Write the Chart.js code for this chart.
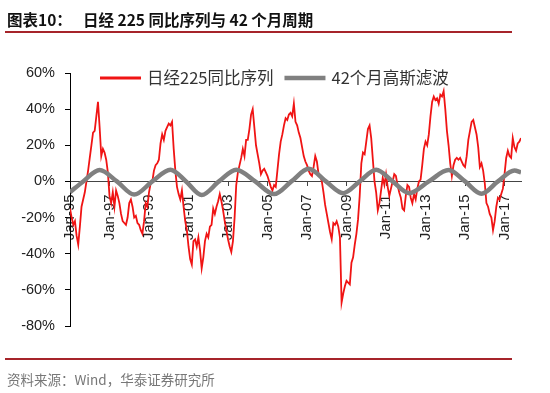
<!DOCTYPE html>
<html>
<head>
<meta charset="utf-8">
<script src="https://cdn.jsdelivr.net/npm/chart.js@4.4.1/dist/chart.umd.min.js"></script>
<style>
  body { margin: 0; background: #fff; }
  #wrap { position: relative; width: 550px; height: 393px; overflow: hidden; }
  #chart { position: absolute; left: 0; top: 0; }
  .title { position: absolute; top: 8px; font: bold 15.5px "Noto Sans CJK SC", sans-serif; color: #111; white-space: nowrap; }
  .rule { position: absolute; left: 5px; width: 507px; height: 2px; background: #a6242a; }
  .source { position: absolute; left: 7px; top: 369px; font: 13.5px "Noto Sans CJK SC", sans-serif; color: #777; white-space: nowrap; }
</style>
</head>
<body>
<div id="wrap">
  <canvas id="chart" width="550" height="393"></canvas>
  <div class="title" style="left:7px">图表10：</div>
  <div class="title" style="left:83px">日经 225 同比序列与 42 个月周期</div>
  <div class="rule" style="top:31px"></div>
  <div class="rule" style="top:358px"></div>
  <div class="source">资料来源：Wind，华泰证券研究所</div>
</div>
<script>
// month index 0 = Jan-95
var xLabels = ["Jan-95","Jan-97","Jan-99","Jan-01","Jan-03","Jan-05","Jan-07","Jan-09","Jan-11","Jan-13","Jan-15","Jan-17"]

// 日经225同比 (%), monthly from Jan-95
var nikkeiYoy = [
 -15,-20,-24,-22,-30,-35,-25,-14,-10,-6,0,6,
 13,20,27,28,36,44,30,14,18,16,12,5,
 -8,-12,-6,-14,-5,-8,-12,-18,-22,-23,-24,-20,
 -12,-10,-14,-20,-19,-23,-24,-27,-29,-22,-12,-14,
 -6,-1,0,6,9,10,12,21,26,23,28,30,
 32,31,33,18,6,-3,-7,-10,-5,-14,-22,-27,
 -36,-43,-46,-33,-32,-36,-31,-38,-48,-42,-33,-29,
 -31,-25,-24,-15,-18,-14,-11,-7,-11,-16,-22,-27,
 -32,-36,-39,-33,-20,-2,5,9,13,18,14,23,
 23,29,37,40,30,20,15,10,4,6,7,5,
 3,0,-3,-5,-2,-3,6,15,22,26,31,35,
 34,37,38,36,43,33,31,27,24,19,14,11,
 9,6,4,3,8,14,11,4,3,0,-6,-13,
 -18,-23,-28,-32,-23,-24,-22,-25,-31,-67,-62,-58,
 -55,-56,-57,-45,-42,-35,-29,-21,-8,10,16,15,
 22,29,31,24,12,0,-6,-16,-12,-5,2,-2,
 4,-3,-8,-4,0,4,3,-2,-6,-9,-15,-16,
 -8,-2,-3,-9,-12,-7,-10,-4,0,1,9,18,
 22,20,26,36,44,47,45,46,43,48,47,50,
 40,28,20,10,3,9,12,13,12,13,11,9,
 8,14,23,28,33,34,30,26,19,8,10,6,
 -1,-12,-14,-18,-20,-27,-22,-14,-9,-10,-7,-4,
 4,13,17,14,13,24,19,17,21,22,24
]

// 42个月高斯滤波, read at turning points and zero crossings
var cycleMonth = [0, 8, 18, 28.5, 39, 50, 61, 70.5, 80, 90.5, 101, 112.5, 124, 134.5, 145, 155.5, 166, 176, 186, 196, 206, 218, 230, 240, 250, 260, 270, 274]
var cycleValue = [-6, 0, 6.3, 0, -7.3, 0, 6.5, 0, -7.5, 0, 6.5, 0, -7, 0, 7, 0, -6.5, 0, 6.5, 0, -6.5, 0, 6.3, 0, -6.8, 0, 6, 5]

var redPoints = nikkeiYoy.map(function(v, i){ return {x: i, y: v} })
var grayPoints = cycleMonth.map(function(m, i){ return {x: m, y: cycleValue[i]} })

// legend drawn inside the plot, next to the 60% line
var insideLegend = {
  id: 'insideLegend',
  afterDraw: function(chart){
    var ctx = chart.ctx
    var x = 100, y = 78
    ctx.save()
    ctx.font = '16.5px "Noto Sans CJK SC", sans-serif'
    ctx.textBaseline = 'middle'
    chart.data.datasets.forEach(function(ds){
      ctx.strokeStyle = ds.borderColor
      ctx.lineWidth = ds.legendWidth
      ctx.beginPath()
      ctx.moveTo(x, y)
      ctx.lineTo(x + 41, y)
      ctx.stroke()
      ctx.fillStyle = '#333'
      ctx.fillText(ds.label, x + 47, y)
      x += 47 + ctx.measureText(ds.label).width + 11
    })
    ctx.restore()
  }
}

var chart = new Chart(document.getElementById('chart').getContext('2d'), {
  type: 'line',
  data: {
    datasets: [
      {
        label: '日经225同比序列',
        data: redPoints,
        borderColor: '#f01414',
        borderWidth: 1.8,
        legendWidth: 3,
        pointRadius: 0,
        order: 2
      },
      {
        label: '42个月高斯滤波',
        data: grayPoints,
        borderColor: '#808080',
        borderWidth: 4.5,
        legendWidth: 4.5,
        pointRadius: 0,
        cubicInterpolationMode: 'monotone',
        order: 1
      }
    ]
  },
  options: {
    responsive: false,
    animation: false,
    devicePixelRatio: 1,
    layout: { padding: { left: 20, right: 29, top: 73, bottom: 67 } },
    plugins: { legend: { display: false }, tooltip: { enabled: false } },
    scales: {
      x: {
        type: 'linear',
        position: { y: 0 },
        min: 0,
        max: 274,
        afterFit: function(s){ s.height = 0 },
        grid: { drawOnChartArea: false, tickLength: 4, color: '#444' },
        border: { color: '#444', width: 1 },
        ticks: {
          stepSize: 24,
          includeBounds: false,
          autoSkip: false,
          minRotation: 90,
          maxRotation: 90,
          padding: 9,
          color: '#222',
          font: { family: '"Liberation Sans", Arial, sans-serif', size: 15 },
          callback: function(v){ return xLabels[v / 24] }
        }
      },
      y: {
        min: -80,
        max: 60,
        afterFit: function(s){ s.width = 50 },
        grid: { drawOnChartArea: false, tickLength: 5, color: '#000' },
        border: { color: '#000', width: 1 },
        ticks: {
          stepSize: 20,
          padding: 10,
          color: '#222',
          font: { family: '"Liberation Sans", Arial, sans-serif', size: 14.5 },
          callback: function(v){ return v + '%' }
        }
      }
    }
  },
  plugins: [insideLegend]
})
</script>
</body>
</html>
